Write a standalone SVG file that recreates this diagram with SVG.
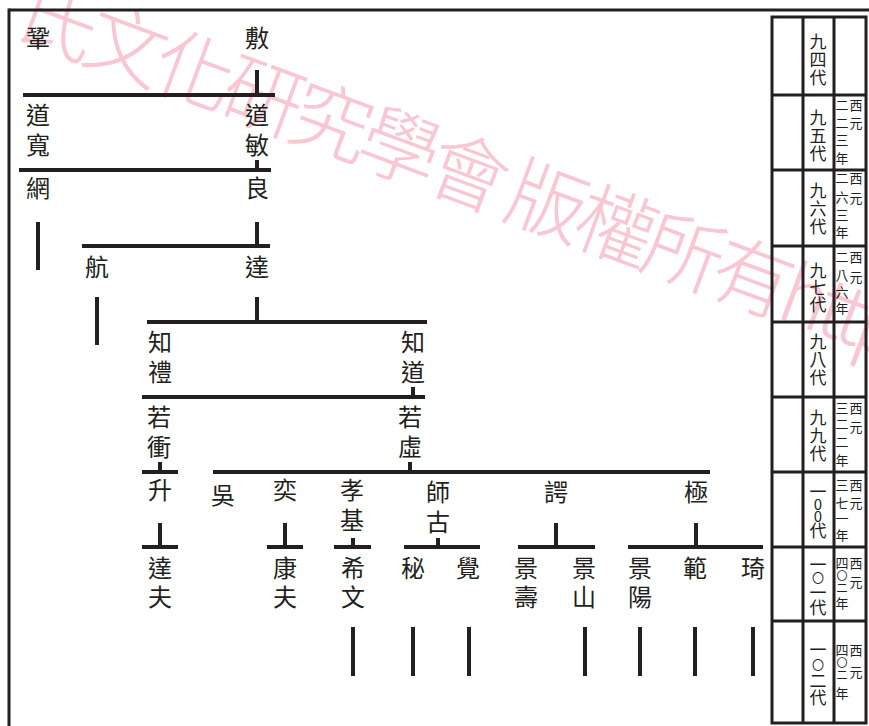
<svg xmlns="http://www.w3.org/2000/svg" width="869" height="726" viewBox="0 0 869 726">
<style>
  .n{font-family:"Noto Sans CJK TC","Noto Sans CJK SC",sans-serif;font-size:24px;fill:#231f20;text-anchor:middle}
  .g{font-family:"Noto Sans CJK TC","Noto Sans CJK SC",sans-serif;font-size:17px;fill:#231f20;text-anchor:middle}
  .y{font-family:"Noto Sans CJK TC","Noto Sans CJK SC",sans-serif;font-size:13px;fill:#231f20;text-anchor:middle}
  .s{font-size:11px}
  .z{font-size:12px}
  .d{font-size:15px}
  .wm{font-family:"Noto Sans CJK TC","Noto Sans CJK SC",sans-serif;font-size:80px;font-weight:300;letter-spacing:-7px;fill:#f9c6d2}
  .c line{stroke:#231f20;stroke-width:4}
  .t line,.t rect{stroke:#231f20;stroke-width:3;fill:none}
  .f line{stroke:#231f20;stroke-width:3}
</style>
<rect width="869" height="726" fill="#ffffff"/>
<g id="watermark">
  <text class="wm" transform="translate(10.5,34.3) rotate(20.3)">氏文化研究學會 版權所有http</text>
</g>
<g id="frame" class="f">
  <line x1="9" y1="10" x2="869" y2="10"/>
  <line x1="9" y1="8.5" x2="9" y2="726"/>
</g>
<g id="connectors" class="c">
  <line x1="257" y1="70" x2="257" y2="95"/>
  <line x1="23" y1="95" x2="275" y2="95"/>
  <line x1="257" y1="160" x2="257" y2="170"/>
  <line x1="19" y1="170" x2="271" y2="170"/>
  <line x1="38" y1="222" x2="38" y2="270"/>
  <line x1="257" y1="222" x2="257" y2="246"/>
  <line x1="82" y1="246" x2="270" y2="246"/>
  <line x1="97" y1="297" x2="97" y2="345"/>
  <line x1="257" y1="297" x2="257" y2="322"/>
  <line x1="147" y1="322" x2="427" y2="322"/>
  <line x1="413" y1="387" x2="413" y2="397"/>
  <line x1="142" y1="397" x2="425" y2="397"/>
  <line x1="160" y1="462" x2="160" y2="472"/>
  <line x1="142" y1="472" x2="178" y2="472"/>
  <line x1="410" y1="462" x2="410" y2="472"/>
  <line x1="213" y1="472" x2="710" y2="472"/>
  <line x1="160" y1="523" x2="160" y2="547"/>
  <line x1="142" y1="547" x2="178" y2="547"/>
  <line x1="285" y1="523" x2="285" y2="547"/>
  <line x1="267" y1="547" x2="303" y2="547"/>
  <line x1="353" y1="538" x2="353" y2="547"/>
  <line x1="334" y1="547" x2="371" y2="547"/>
  <line x1="438" y1="538" x2="438" y2="547"/>
  <line x1="404" y1="547" x2="480" y2="547"/>
  <line x1="556" y1="523" x2="556" y2="547"/>
  <line x1="518" y1="547" x2="595" y2="547"/>
  <line x1="696" y1="523" x2="696" y2="547"/>
  <line x1="628" y1="547" x2="763" y2="547"/>
  <line x1="353" y1="627" x2="353" y2="676"/>
  <line x1="413" y1="627" x2="413" y2="676"/>
  <line x1="469" y1="627" x2="469" y2="676"/>
  <line x1="585" y1="627" x2="585" y2="676"/>
  <line x1="640" y1="627" x2="640" y2="676"/>
  <line x1="695" y1="627" x2="695" y2="676"/>
  <line x1="753" y1="627" x2="753" y2="676"/>
</g>
<g id="n-gong"><text class="n" x="38" y="47">鞏</text></g>
<g id="n-fu"><text class="n" x="257" y="47">敷</text></g>
<g id="n-daokuan"><text class="n"><tspan x="38" y="124">道</tspan><tspan x="38" y="154">寬</tspan></text></g>
<g id="n-daomin"><text class="n"><tspan x="257" y="124">道</tspan><tspan x="257" y="154">敏</tspan></text></g>
<g id="n-wang"><text class="n" x="38" y="197">網</text></g>
<g id="n-liang"><text class="n" x="257" y="197">良</text></g>
<g id="n-hang"><text class="n" x="97" y="276">航</text></g>
<g id="n-da"><text class="n" x="257" y="276">達</text></g>
<g id="n-zhili"><text class="n"><tspan x="160" y="351">知</tspan><tspan x="160" y="381">禮</tspan></text></g>
<g id="n-zhidao"><text class="n"><tspan x="413" y="351">知</tspan><tspan x="413" y="381">道</tspan></text></g>
<g id="n-ruoheng"><text class="n"><tspan x="159" y="426">若</tspan><tspan x="159" y="456">衝</tspan></text></g>
<g id="n-ruoxu"><text class="n"><tspan x="410" y="426">若</tspan><tspan x="410" y="456">虛</tspan></text></g>
<g id="n-sheng"><text class="n" x="160" y="499">升</text></g>
<g id="n-wu"><text class="n" x="223" y="504">吳</text></g>
<g id="n-yi"><text class="n" x="285" y="499">奕</text></g>
<g id="n-xiaoji"><text class="n"><tspan x="352" y="499">孝</tspan><tspan x="352" y="529">基</tspan></text></g>
<g id="n-shigu"><text class="n"><tspan x="438" y="501">師</tspan><tspan x="438" y="531">古</tspan></text></g>
<g id="n-e"><text class="n" x="556" y="501">諤</text></g>
<g id="n-ji"><text class="n" x="696" y="501">極</text></g>
<g id="n-dafu"><text class="n"><tspan x="160" y="577">達</tspan><tspan x="160" y="606">夫</tspan></text></g>
<g id="n-kangfu"><text class="n"><tspan x="285" y="577">康</tspan><tspan x="285" y="606">夫</tspan></text></g>
<g id="n-xiwen"><text class="n"><tspan x="353" y="577">希</tspan><tspan x="353" y="606">文</tspan></text></g>
<g id="n-mi"><text class="n" x="413" y="577">秘</text></g>
<g id="n-jue"><text class="n" x="468" y="577">覺</text></g>
<g id="n-jingshou"><text class="n"><tspan x="526" y="577">景</tspan><tspan x="526" y="606">壽</tspan></text></g>
<g id="n-jingshan"><text class="n"><tspan x="584" y="577">景</tspan><tspan x="584" y="606">山</tspan></text></g>
<g id="n-jingyang"><text class="n"><tspan x="640" y="577">景</tspan><tspan x="640" y="606">陽</tspan></text></g>
<g id="n-fan"><text class="n" x="695" y="577">範</text></g>
<g id="n-qi"><text class="n" x="753" y="577">琦</text></g>
<g id="table" class="t">
  <rect x="772" y="17" width="94" height="706"/>
  <line x1="803" y1="17" x2="803" y2="723"/>
  <line x1="834" y1="17" x2="834" y2="723"/>
  <line x1="772" y1="95" x2="866" y2="95"/>
  <line x1="772" y1="170" x2="866" y2="170"/>
  <line x1="772" y1="246" x2="866" y2="246"/>
  <line x1="772" y1="322" x2="866" y2="322"/>
  <line x1="772" y1="397" x2="866" y2="397"/>
  <line x1="772" y1="472" x2="866" y2="472"/>
  <line x1="772" y1="547" x2="866" y2="547"/>
  <line x1="772" y1="621" x2="866" y2="621"/>
</g>
<g id="generations">
  <text class="g"><tspan x="818" y="48">九</tspan><tspan x="818" y="66">四</tspan><tspan x="818" y="84">代</tspan></text>
  <text class="g"><tspan x="818" y="124">九</tspan><tspan x="818" y="142">五</tspan><tspan x="818" y="160">代</tspan></text>
  <text class="g"><tspan x="818" y="197">九</tspan><tspan x="818" y="215">六</tspan><tspan x="818" y="233">代</tspan></text>
  <text class="g"><tspan x="818" y="277">九</tspan><tspan x="818" y="294">七</tspan><tspan x="818" y="311">代</tspan></text>
  <text class="g"><tspan x="818" y="348">九</tspan><tspan x="818" y="366">八</tspan><tspan x="818" y="384">代</tspan></text>
  <text class="g"><tspan x="818" y="424">九</tspan><tspan x="818" y="442">九</tspan><tspan x="818" y="460">代</tspan></text>
  <text class="g"><tspan x="818" y="498">一</tspan><tspan class="d" x="818" y="510">0</tspan><tspan class="d" x="818" y="522">0</tspan><tspan x="818" y="537">代</tspan></text>
  <text class="g"><tspan x="818" y="571">一</tspan><tspan class="z" x="818" y="583">〇</tspan><tspan x="818" y="599">一</tspan><tspan x="818" y="614">代</tspan></text>
  <text class="g"><tspan x="818" y="656">一</tspan><tspan class="z" x="818" y="670">〇</tspan><tspan x="818" y="687">二</tspan><tspan x="818" y="704">代</tspan></text>
</g>
<g id="years">
  <text class="y"><tspan x="856" y="110">西</tspan><tspan x="856" y="128">元</tspan><tspan x="842" y="110">二</tspan><tspan x="842" y="128">二</tspan><tspan x="842" y="145">三</tspan><tspan x="842" y="163">年</tspan></text>
  <text class="y"><tspan x="856" y="183">西</tspan><tspan x="856" y="203">元</tspan><tspan x="842" y="183">二</tspan><tspan x="842" y="202">六</tspan><tspan x="842" y="220">三</tspan><tspan x="842" y="237">年</tspan></text>
  <text class="y"><tspan x="856" y="262">西</tspan><tspan x="856" y="282">元</tspan><tspan x="842" y="262">二</tspan><tspan x="842" y="280">八</tspan><tspan x="842" y="297">六</tspan><tspan x="842" y="313">年</tspan></text>
  <text class="y"><tspan x="856" y="413">西</tspan><tspan x="856" y="432">元</tspan><tspan x="842" y="413">三</tspan><tspan x="842" y="429">二</tspan><tspan x="842" y="447">二</tspan><tspan x="842" y="465">年</tspan></text>
  <text class="y"><tspan x="856" y="490">西</tspan><tspan x="856" y="508">元</tspan><tspan x="842" y="490">三</tspan><tspan x="842" y="508">七</tspan><tspan x="842" y="523">一</tspan><tspan x="842" y="540">年</tspan></text>
  <text class="y"><tspan x="856" y="568">西</tspan><tspan x="856" y="587">元</tspan><tspan x="842" y="568">四</tspan><tspan class="s" x="842" y="580">〇</tspan><tspan class="s" x="842" y="592">二</tspan><tspan x="842" y="608">年</tspan></text>
  <text class="y"><tspan x="856" y="655">西</tspan><tspan x="856" y="677">元</tspan><tspan x="842" y="655">四</tspan><tspan class="s" x="842" y="667">〇</tspan><tspan class="s" x="842" y="679">二</tspan><tspan x="842" y="698">年</tspan></text>
</g>
</svg>
